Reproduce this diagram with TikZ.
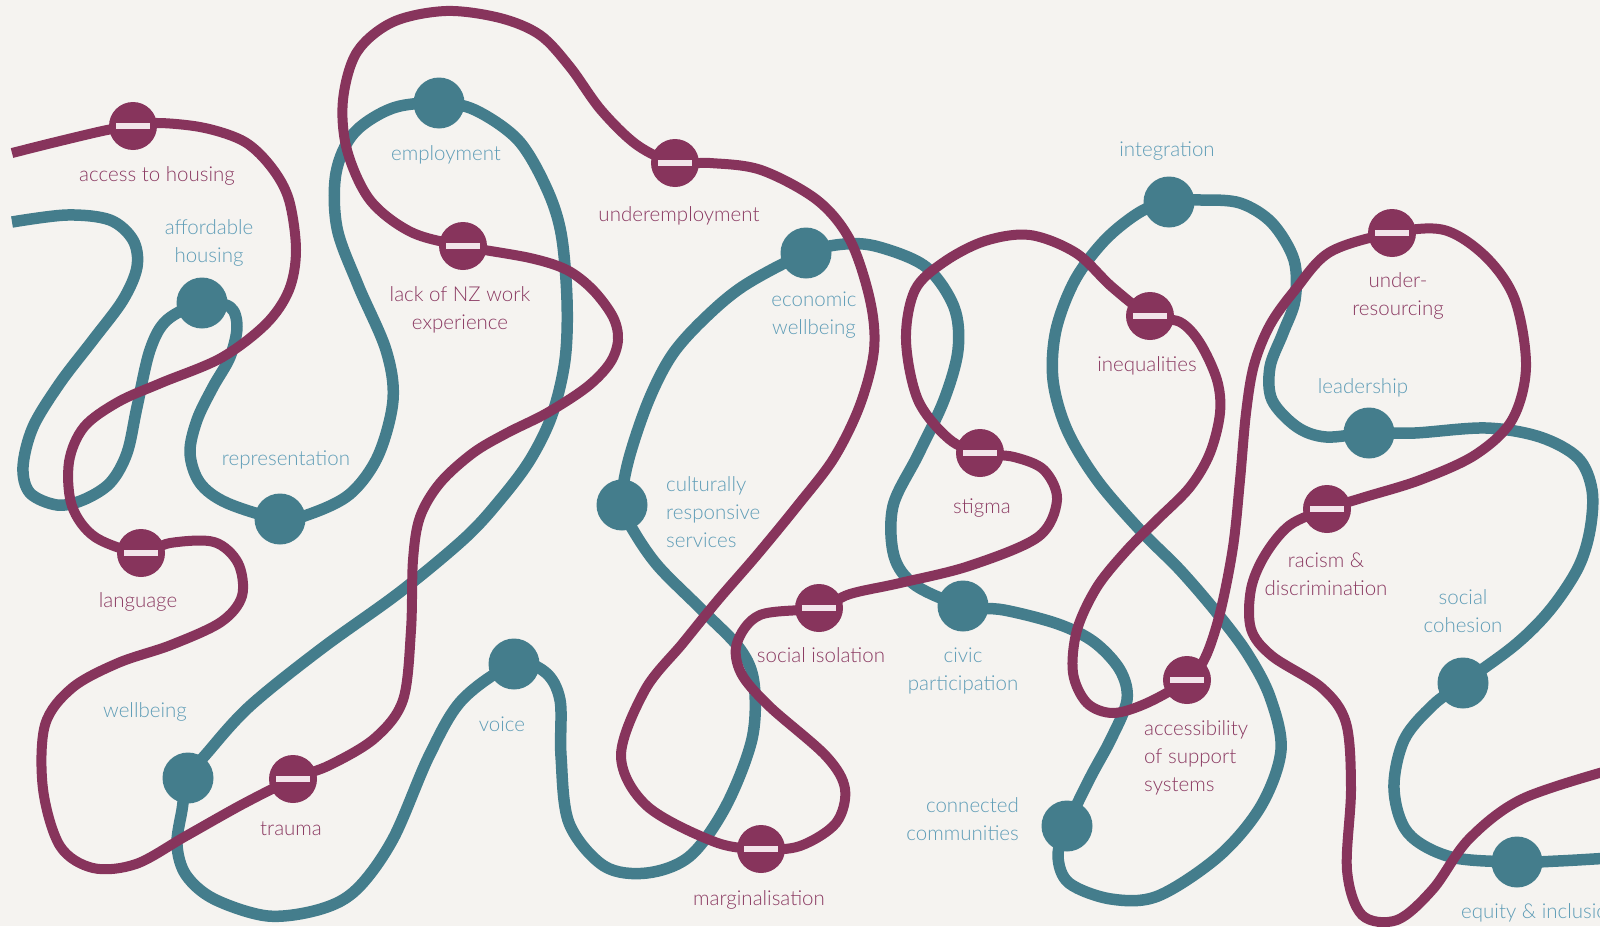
\documentclass[tikz,border=0pt]{standalone}
\usepackage{fontspec}
\setmainfont{Lato}[UprightFont=* Light]
\pgfdeclarelayer{bg}
\pgfsetlayers{bg,main}
\definecolor{bgcol}{RGB}{245,243,240}
\definecolor{mline}{RGB}{135,52,92}
\definecolor{tline}{RGB}{68,125,140}
\definecolor{mtext}{RGB}{139,58,98}
\definecolor{ttext}{RGB}{95,157,183}
\definecolor{barcol}{RGB}{242,228,234}
\tikzset{
  mcurve/.style={draw=mline, line width=10pt, line cap=butt, line join=round},
  tcurve/.style={draw=tline, line width=11.5pt, line cap=butt, line join=round},
  mdot/.style={circle, fill=mline, inner sep=0pt, minimum size=48pt,
    path picture={\fill[barcol] ([xshift=-17pt,yshift=-3pt]path picture bounding box.center) rectangle ++(34pt,6pt);}},
  tdot/.style={circle, fill=tline, inner sep=0pt, minimum size=51pt},
  mlab/.style={text=mtext, font=\fontsize{20.5}{28}\selectfont, align=center, inner sep=0pt},
  tlab/.style={text=ttext, font=\fontsize{20.5}{28}\selectfont, align=center, inner sep=0pt}
}
\begin{document}
\begin{tikzpicture}[x=1pt, y=-1pt]
\useasboundingbox (0,0) rectangle (1600,926);
% maroon dots
\node[mdot] (access) at (133,126) {};
\node[mdot] (language) at (141,553) {};
\node[mdot] (trauma) at (293,779) {};
\node[mdot] (lacknz) at (463,246) {};
\node[mdot] (underemp) at (675,163) {};
\node[mdot] (marg) at (761,849) {};
\node[mdot] (socialiso) at (819,608) {};
\node[mdot] (stigma) at (980,453) {};
\node[mdot] (ineq) at (1150,316) {};
\node[mdot] (accsup) at (1187,680) {};
\node[mdot] (underres) at (1392,233) {};
\node[mdot] (racism) at (1327,509) {};
% teal dots
\node[tdot] (aff) at (202,303) {};
\node[tdot] (repr) at (280,519) {};
\node[tdot] (employ) at (439,103) {};
\node[tdot] (wellb) at (188,778) {};
\node[tdot] (voice) at (514,664) {};
\node[tdot] (cult) at (622,505) {};
\node[tdot] (econ) at (806,253) {};
\node[tdot] (civic) at (963,606) {};
\node[tdot] (conn) at (1067,826) {};
\node[tdot] (integ) at (1169,202) {};
\node[tdot] (lead) at (1369,433) {};
\node[tdot] (socco) at (1463,683) {};
\node[tdot] (equity) at (1517,862) {};
% labels
\node[mlab] (Laccess) at (157,176) {access to housing};
\node[tlab] (Laff) at (209,243) {affordable\\housing};
\node[tlab] (Lemploy) at (446,155) {employment};
\node[mlab] (Llacknz) at (460,310) {lack of NZ work\\experience};
\node[mlab] (Lunderemp) at (679,216) {underemployment};
\node[tlab] (Lecon) at (814,315) {economic\\wellbeing};
\node[tlab] (Linteg) at (1167,151) {integration};
\node[mlab] (Lineq) at (1147,366) {inequalities};
\node[mlab] (Lunderres) at (1398,296) {under-\\resourcing};
\node[tlab] (Llead) at (1363,388) {leadership};
\node[tlab] (Lrepr) at (286,460) {representation};
\node[tlab, align=left, anchor=west] (Lcult) at (666,512) {culturally\\responsive\\services};
\node[mlab] (Lstigma) at (982,508) {stigma};
\node[mlab] (Lracism) at (1326,574) {racism \&\\discrimination};
\node[tlab] (Lsocco) at (1463,611) {social\\cohesion};
\node[mlab] (Llanguage) at (138,602) {language};
\node[mlab] (Lsocialiso) at (821,655) {social isolation};
\node[tlab] (Lcivic) at (963,671) {civic\\participation};
\node[tlab] (Lwellb) at (145,712) {wellbeing};
\node[tlab] (Lvoice) at (502,724) {voice};
\node[mlab, align=left, anchor=west] (Laccsup) at (1144,758) {accessibility\\of support\\systems};
\node[tlab, align=right, anchor=east] (Lconn) at (1019,819) {connected\\communities};
\node[mlab] (Ltrauma) at (291,829) {trauma};
\node[mlab] (Lmarg) at (759,900) {marginalisation};
\node[tlab, anchor=west] (Lequity) at (1461,913) {equity \& inclusion};
\begin{pgfonlayer}{bg}
\fill[bgcol] (0,0) rectangle (1600,926);
\draw[tcurve] plot[smooth, tension=0.55] coordinates {
(12,222) (67,215) (110,220) (133,240) (137,267) (123,300) (93,340) (60,383) (33,427) (23,467) (30,493) (57,505) (83,500) (110,483) (127,453) (137,407) (150,350) (167,320) (aff.center) (230,307) (237,327) (230,357) (213,387) (197,420) (190,453) (200,483) (227,503) (repr.center) (310,514) (350,494) (378,456) (393,400) (386,350) (358,285) (337,228) (336,173) (354,133) (393,108) (employ.center) (475,110) (518,140) (546,187) (561,233) (567,300) (565,360) (552,415) (530,460) (500,500) (465,538) (400,592) (321,649) (250,706) (208,752) (wellb.center) (182,810) (177,845) (186,875) (214,899) (268,916) (321,909) (357,889) (393,839) (429,756) (462,700) (voice.center) (545,672) (560,700) (561,756) (569,823) (604,866) (647,873) (690,856) (726,806) (752,739) (754,683) (740,649) (701,609) (658,566) (633,530) (cult.center) (628,462) (648,402) (672,355) (705,318) (745,285) (econ.center) (845,244) (879,247) (926,267) (954,307) (958,350) (944,400) (918,455) (893,506) (894,556) (915,585) (civic.center) (1004,610) (1058,624) (1094,642) (1120,670) (1127,700) (1111,739) (1090,778) (conn.center) (1058,856) (1069,883) (1111,899) (1158,896) (1219,856) (1261,806) (1281,750) (1270,697) (1247,653) (1217,613) (1180,570) (1140,530) (1097,480) (1067,430) (1053,380) (1056,330) (1075,280) (1105,240) (1140,212) (integ.center) (1201,200) (1240,203) (1272,223) (1294,260) (1295,300) (1283,333) (1270,367) (1272,400) (1297,427) (1326,437) (lead.center) (1415,433) (1486,428) (1540,437) (1578,458) (1592,490) (1590,530) (1578,568) (1550,610) (1515,645) (socco.center) (1433,705) (1404,740) (1394,789) (1408,833) (1451,857) (equity.center) (1558,861) (1610,858)};
\draw[mcurve] plot[smooth, tension=0.55] coordinates {
(12,153) (60,141) (107,130) (access.center) (160,123) (205,128) (245,142) (272,168) (289,200) (296,250) (289,290) (266,324) (221,358) (161,383) (118,402) (84,427) (69,462) (72,506) (95,537) (language.center) (170,543) (214,542) (238,563) (242,596) (221,622) (171,645) (118,663) (72,688) (45,725) (43,789) (60,846) (93,868) (136,864) (186,836) (243,804) (trauma.center) (330,765) (375,738) (403,700) (411,630) (413,560) (420,517) (440,483) (473,453) (507,433) (547,413) (587,387) (610,363) (618,340) (613,317) (593,290) (567,270) (530,258) (lacknz.center) (411,232) (370,200) (347,150) (343,100) (357,52) (393,22) (446,11) (500,18) (540,35) (570,67) (601,110) (637,145) (underemp.center) (710,163) (761,170) (817,200) (850,240) (870,300) (874,350) (860,405) (834,458) (798,505) (757,555) (718,600) (683,643) (645,690) (621,756) (647,806) (715,842) (marg.center) (800,846) (836,823) (845,789) (826,756) (769,706) (741,673) (737,643) (760,615) (socialiso.center) (850,594) (900,583) (969,566) (1038,537) (1057,500) (1044,470) (1014,457) (stigma.center) (949,439) (918,400) (906,340) (915,290) (944,262) (985,241) (1030,235) (1076,253) (1112,287) (ineq.center) (1180,322) (1200,343) (1217,380) (1220,413) (1210,453) (1190,487) (1157,520) (1127,550) (1097,587) (1077,630) (1073,673) (1087,703) (1113,713) (1147,703) (accsup.center) (1205,658) (1220,613) (1233,547) (1240,480) (1246,413) (1254,365) (1270,325) (1295,290) (1330,252) (underres.center) (1444,230) (1486,257) (1515,300) (1526,367) (1512,420) (1475,455) (1420,480) (1365,497) (racism.center) (1290,525) (1265,555) (1251,589) (1251,629) (1272,656) (1322,688) (1346,723) (1351,789) (1347,870) (1362,915) (1397,920) (1433,889) (1469,839) (1522,799) (1610,770)};
\end{pgfonlayer}
\end{tikzpicture}
\end{document}
